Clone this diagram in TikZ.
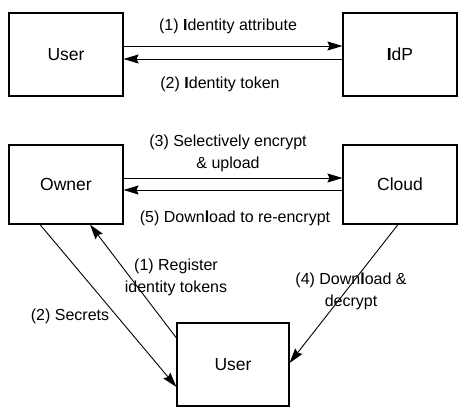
\documentclass[tikz,border=0pt]{standalone}
\usepackage{fontspec}
\setmainfont{Liberation Sans}
\usetikzlibrary{arrows.meta}

\begin{document}
\begin{tikzpicture}[x=1pt, y=-1pt,
		party/.style={draw, line width=1.1pt, rectangle, minimum width=114pt, font=\fontsize{17.5}{20}\selectfont},
		step label/.style={align=center, font=\fontsize{16}{22}\selectfont},
		flow/.style={-{Stealth[length=15pt, width=9pt, inset=2pt]}, line width=0.9pt}]
				\useasboundingbox (0,0) rectangle (468,415);
				\node[party, minimum height=83pt] (UserT)at(66, 54.5) {User};
				\node[party, minimum height=83pt] (IdP)at(400, 54.5) {\textbf{I}dP};
				\node[party, minimum height=79pt] (Owner)at(66, 184.5) {Owner};
				\node[party, minimum height=79pt] (Cloud)at(400, 184.5) {Cloud};
				\node[party, minimum width=112pt, minimum height=83pt] (UserB)at(233, 364.5) {User};
				\node[step label] (attr)at(228, 26) {(1) \textbf{I}dentity attribute};
				\node[step label] (token)at(220, 84) {(2) \textbf{I}dentity token};
				\node[step label] (upload)at(228, 153.5) {(3) Selectively encrypt\\\& upload};
				\node[step label] (reenc)at(235, 218) {(5) Down\textbf{l}oad to re-encrypt};
				\node[step label] (register)at(176, 277) {(1) Register\\identity tokens};
				\node[step label] (decrypt)at(351, 291) {(4) Down\textbf{l}oad \&\\decrypt};
				\node[step label] (secrets)at(70, 316) {(2) Secrets};
				\draw[flow] ([yshift=8.5pt]UserT.east) -- ([yshift=8.5pt]IdP.west);
				\draw[flow] ([yshift=-4.5pt]IdP.west) -- ([yshift=-4.5pt]UserT.east);
				\draw[flow] ([yshift=6.5pt]Owner.east) -- ([yshift=6.5pt]Cloud.west);
				\draw[flow] ([yshift=-5.5pt]Cloud.west) -- ([yshift=-5.5pt]Owner.east);
				\draw[flow] ([xshift=-26pt]Owner.south) -- ([yshift=-22.5pt]UserB.west);
				\draw[flow] ([yshift=26.5pt]UserB.west) -- ([xshift=24pt]Owner.south);
				\draw[flow] ([xshift=-2pt]Cloud.south) -- ([yshift=1.5pt]UserB.east);
			\end{tikzpicture}
\end{document}
